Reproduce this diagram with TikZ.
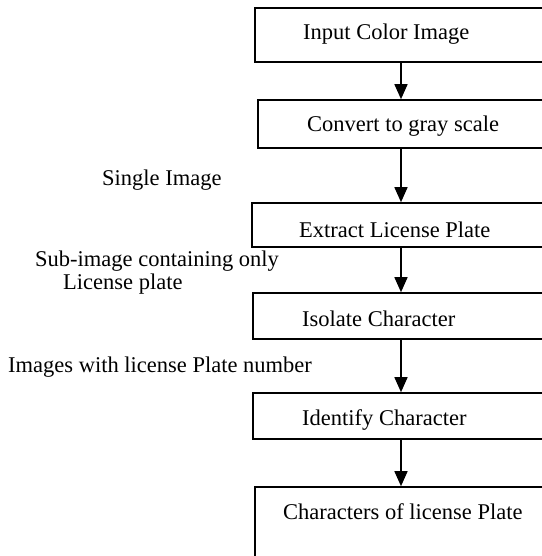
\documentclass[tikz,border=0pt]{standalone}
\usepackage{fontspec}
\setmainfont{Liberation Serif}
\usetikzlibrary{arrows.meta}
\begin{document}
\begin{tikzpicture}[x=1pt,y=-1pt,
  flowbox/.style={draw=black, line width=1.6pt, rectangle, inner sep=0pt},
  txt/.style={anchor=base west, inner sep=0pt, font=\fontsize{22.5}{27}\selectfont},
  arr/.style={line width=1.5pt, -{Triangle[length=15pt,width=13pt]}}]
\useasboundingbox (0,0) rectangle (541,556);
% boxes (right sides run off the page)
\node[flowbox, minimum width=292pt, minimum height=54pt] (b1) at (401,35) {};
\node[flowbox, minimum width=286pt, minimum height=48pt] (b2) at (401,124) {};
\node[flowbox, minimum width=298pt, minimum height=44pt] (b3) at (401,225) {};
\node[flowbox, minimum width=296pt, minimum height=46pt] (b4) at (401,316) {};
\node[flowbox, minimum width=296pt, minimum height=46pt] (b5) at (401,416) {};
\node[flowbox, minimum width=292pt, minimum height=113pt] (b6) at (401,543.5) {};
% box texts
\node[txt] (t1) at (303,40) {Input Color Image};
\node[txt] (t2) at (307,132) {Convert to gray scale};
\node[txt] (t3) at (299,237) {Extract License Plate};
\node[txt] (t4) at (302,326) {Isolate Character};
\node[txt] (t5) at (302,425) {Identify Character};
\node[txt] (t6) at (283,519) {Characters of license Plate};
% side labels
\node[txt] (l1) at (102,185) {Single Image};
\node[txt] (l2) at (35,266) {Sub-image containing only};
\node[txt] (l3) at (63,289) {License plate};
\node[txt] (l4) at (8,372) {Images with license Plate number};
% arrows
\draw[arr] (b1.south) -- (b2.north);
\draw[arr] (b2.south) -- (b3.north);
\draw[arr] (b3.south) -- (b4.north);
\draw[arr] (b4.south) -- (b5.north);
\draw[arr] (b5.south) -- (b6.north);
\end{tikzpicture}
\end{document}
